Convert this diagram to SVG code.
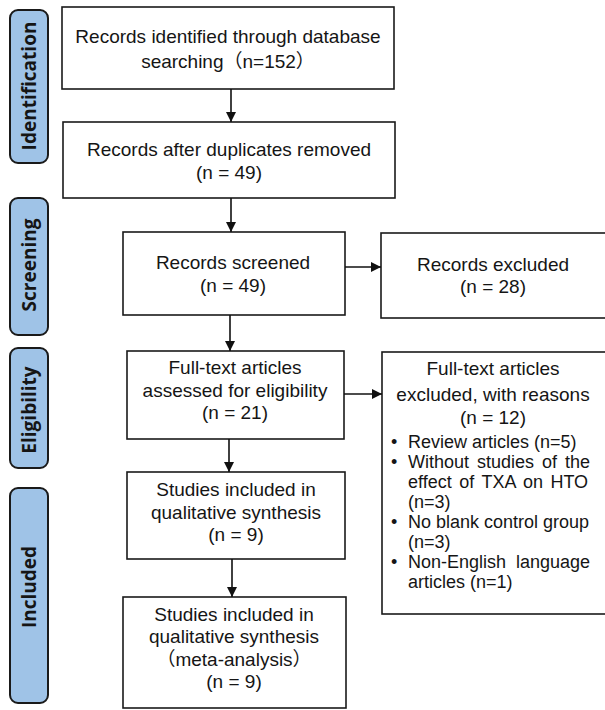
<svg xmlns="http://www.w3.org/2000/svg" width="605" height="710" viewBox="0 0 605 710">
<style>
.bg{fill:#ffffff}
.box{fill:#ffffff;stroke:#1a1a1a;stroke-width:1.6}
.phase{fill:#9fc3e7;stroke:#1a1a1a;stroke-width:2}
.ph{font-family:"Open Sans","Noto Sans",sans-serif;font-weight:bold;font-size:19px;fill:#151515;text-anchor:middle}
.t{font-family:"Liberation Sans","Noto Sans CJK SC",Arial,sans-serif;font-size:19px;fill:#151515;text-anchor:middle}
.b{font-family:"Liberation Sans",Arial,sans-serif;font-size:18px;fill:#151515}
.conn line{stroke:#111;stroke-width:1.6;fill:none}
</style>
<defs>
<marker id="ah" markerUnits="userSpaceOnUse" markerWidth="11" markerHeight="11" refX="10" refY="5" orient="auto">
<path d="M0,0 L10,5 L0,10 z" fill="#111"/>
</marker>
</defs>
<rect class="bg" x="0" y="0" width="605" height="710"/>

<g id="phase-identification">
<rect class="phase" x="10" y="10" width="38" height="153" rx="8"/>
<text class="ph" transform="translate(36,86) rotate(-90)">Identification</text>
</g>
<g id="phase-screening">
<rect class="phase" x="10" y="198" width="38" height="137" rx="8"/>
<text class="ph" transform="translate(36,265) rotate(-90)">Screening</text>
</g>
<g id="phase-eligibility">
<rect class="phase" x="10" y="348" width="38" height="120" rx="8"/>
<text class="ph" transform="translate(36,410) rotate(-90)">Eligibility</text>
</g>
<g id="phase-included">
<rect class="phase" x="10" y="488" width="38" height="215" rx="8"/>
<text class="ph" transform="translate(36,587) rotate(-90)">Included</text>
</g>

<g id="identified">
<rect class="box" x="62" y="7" width="332" height="82"/>
<text class="t" x="228" y="43">Records identified through database</text>
<text class="t" x="228" y="68">searching（n=152）</text>
</g>
<g id="after-duplicates">
<rect class="box" x="63" y="122" width="332" height="76"/>
<text class="t" x="229" y="156">Records after duplicates removed</text>
<text class="t" x="229" y="179">(n = 49)</text>
</g>
<g id="screened">
<rect class="box" x="123" y="232" width="222" height="83"/>
<text class="t" x="233" y="269">Records screened</text>
<text class="t" x="233" y="292">(n = 49)</text>
</g>
<g id="excluded">
<rect class="box" x="381" y="233" width="230" height="85"/>
<text class="t" x="493" y="271">Records excluded</text>
<text class="t" x="493" y="293">(n = 28)</text>
</g>
<g id="fulltext">
<rect class="box" x="127" y="351" width="217" height="88"/>
<text class="t" x="235" y="374">Full-text articles</text>
<text class="t" x="235" y="397">assessed for eligibility</text>
<text class="t" x="235" y="419">(n = 21)</text>
</g>
<g id="fulltext-excluded">
<rect class="box" x="382" y="352" width="230" height="262"/>
<text class="t" x="493" y="375">Full-text articles</text>
<text class="t" x="493" y="401">excluded, with reasons</text>
<text class="t" x="493" y="424">(n = 12)</text>
<text class="b" x="391" y="448">•</text>
<text class="b" x="408" y="448">Review articles (n=5)</text>
<text class="b" x="391" y="468">•</text>
<text class="b" x="408" y="468" word-spacing="3">Without studies of the</text>
<text class="b" x="408" y="488" word-spacing="2.5">effect of TXA on HTO</text>
<text class="b" x="408" y="508">(n=3)</text>
<text class="b" x="391" y="528">•</text>
<text class="b" x="408" y="528">No blank control group</text>
<text class="b" x="408" y="548">(n=3)</text>
<text class="b" x="391" y="568">•</text>
<text class="b" x="408" y="568" word-spacing="5">Non-English language</text>
<text class="b" x="408" y="588">articles (n=1)</text>
</g>
<g id="qualitative">
<rect class="box" x="127" y="472" width="218" height="87"/>
<text class="t" x="236" y="496">Studies included in</text>
<text class="t" x="236" y="519">qualitative synthesis</text>
<text class="t" x="236" y="541">(n = 9)</text>
</g>
<g id="meta">
<rect class="box" x="123" y="597" width="223" height="111"/>
<text class="t" x="234" y="621">Studies included in</text>
<text class="t" x="234" y="643">qualitative synthesis</text>
<text class="t" x="234" y="666">（meta-analysis）</text>
<text class="t" x="234" y="688">(n = 9)</text>
</g>

<g id="connectors" class="conn">
<line x1="231" y1="89" x2="231" y2="122" marker-end="url(#ah)"/>
<line x1="231" y1="198" x2="231" y2="232" marker-end="url(#ah)"/>
<line x1="230" y1="315" x2="230" y2="351" marker-end="url(#ah)"/>
<line x1="229" y1="439" x2="229" y2="472" marker-end="url(#ah)"/>
<line x1="232" y1="559" x2="232" y2="597" marker-end="url(#ah)"/>
<line x1="345" y1="267" x2="381" y2="267" marker-end="url(#ah)"/>
<line x1="344" y1="394" x2="382" y2="394" marker-end="url(#ah)"/>
</g>
</svg>
